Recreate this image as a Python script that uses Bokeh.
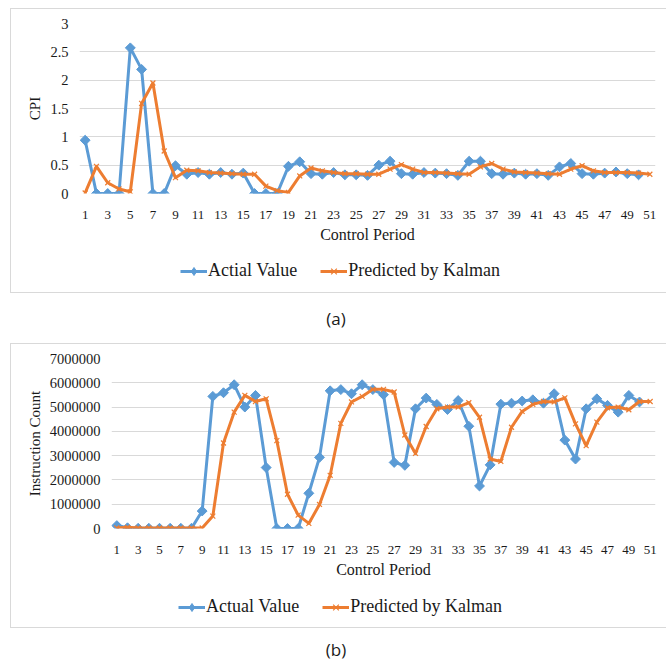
import numpy as np
from bokeh.plotting import figure
from bokeh.models import Range1d, FixedTicker, NumeralTickFormatter, Legend, LegendItem, Div
from bokeh.embed import file_html
from bokeh.resources import INLINE

# ---------------- data ----------------
periods_actual = list(range(1, 51))
periods_pred = list(range(1, 52))
x_ticks = list(range(1, 52, 2))

cpi_actual = [0.94, 0, 0, 0, 2.57, 2.19, 0, 0, 0.49, 0.34,
              0.37, 0.34, 0.37, 0.34, 0.36, 0, 0, 0, 0.48, 0.56,
              0.35, 0.34, 0.37, 0.33, 0.33, 0.32, 0.50, 0.57, 0.35, 0.34,
              0.37, 0.36, 0.35, 0.32, 0.57, 0.57, 0.35, 0.34, 0.36, 0.34,
              0.35, 0.32, 0.47, 0.53, 0.35, 0.34, 0.36, 0.38, 0.35, 0.33]
cpi_pred = [0.01, 0.48, 0.19, 0.08, 0.03, 1.59, 1.95, 0.75, 0.28, 0.41,
            0.40, 0.37, 0.36, 0.35, 0.34, 0.34, 0.13, 0.05, 0.02, 0.31,
            0.45, 0.40, 0.37, 0.35, 0.35, 0.34, 0.34, 0.43, 0.51, 0.43,
            0.37, 0.37, 0.36, 0.35, 0.34, 0.47, 0.53, 0.43, 0.38, 0.37,
            0.36, 0.35, 0.34, 0.43, 0.49, 0.40, 0.37, 0.37, 0.37, 0.36,
            0.34]
ic_actual = [120000, 30000, 10000, 10000, 10000, 10000, 10000, 10000, 720000,
             5440000, 5590000, 5920000, 5000000, 5480000, 2510000, 0, 0, 0, 1450000, 2930000,
             5670000, 5720000, 5550000, 5920000, 5720000, 5510000, 2720000, 2600000, 4930000, 5370000,
             5110000, 4900000, 5270000, 4210000, 1750000, 2620000, 5120000, 5160000, 5250000, 5300000,
             5160000, 5550000, 3640000, 2860000, 4930000, 5340000, 5070000, 4790000, 5480000, 5210000]
ic_pred = [20000, 50000, 20000, 20000, 20000, 20000, 20000, 20000, 20000, 510000,
           3520000, 4790000, 5480000, 5230000, 5340000, 3620000, 1410000, 550000, 210000, 990000,
           2190000, 4330000, 5210000, 5440000, 5730000, 5730000, 5620000, 3850000, 3090000, 4200000,
           4930000, 5000000, 5000000, 5180000, 4580000, 2860000, 2760000, 4170000, 4820000, 5110000,
           5230000, 5210000, 5380000, 4310000, 3410000, 4380000, 4970000, 5000000, 4890000, 5230000,
           5230000]

cpi_ticks = [0, 0.5, 1, 1.5, 2, 2.5, 3]
ic_ticks = [0, 1000000, 2000000, 3000000, 4000000, 5000000, 6000000, 7000000]

# ---------------- style ----------------
BLUE = "#5B9BD5"
ORANGE = "#ED7D31"
GRID = "#D9D9D9"
TEXT = "#1a1a1a"
SERIF = "Liberation Serif"
BOX = "1px solid #D9D9D9"


def draw_series(p, xa, ya, xp, yp, legend_mode=False):
    l1 = p.line(xa, ya, line_color=BLUE, line_width=3, line_join="round")
    if legend_mode:
        s1 = p.scatter(xa, ya, marker="diamond", size=11,
                       fill_color=BLUE, line_color=BLUE)
    else:
        s1 = p.scatter(xa, ya, marker="square", angle=np.pi / 4, size=7,
                       fill_color=BLUE, line_color=BLUE)
    l2 = p.line(xp, yp, line_color=ORANGE, line_width=3, line_join="round")
    s2 = p.scatter(xp, yp, marker="x", size=7, line_color=ORANGE, line_width=1.2)
    return l1, s1, l2, s2


def make_chart(ya, yp, ticks, fmt, y_label, left, top_margin):
    p = figure(width=656, height=236,
               x_range=Range1d(0.5, 51.5), y_range=Range1d(0, ticks[-1]),
               output_backend="svg", toolbar_location=None,
               min_border_left=left, min_border_right=12,
               min_border_top=14, min_border_bottom=52,
               outline_line_color=None, background_fill_color="white",
               border_fill_color="white", margin=(top_margin, 0, 0, 10),
               styles={"border-top": BOX, "border-left": BOX})

    p.xgrid.visible = False
    p.ygrid.grid_line_color = GRID
    p.ygrid.grid_line_width = 1

    xa = p.xaxis[0]
    xa.ticker = FixedTicker(ticks=x_ticks)
    xa.axis_line_color = None
    xa.major_tick_line_color = None
    xa.minor_tick_line_color = None
    xa.major_label_standoff = 11
    xa.major_label_text_font = SERIF
    xa.major_label_text_font_size = "13px"
    xa.major_label_text_color = TEXT
    xa.axis_label = "Control Period"
    xa.axis_label_text_font = SERIF
    xa.axis_label_text_font_size = "16px"
    xa.axis_label_text_font_style = "normal"
    xa.axis_label_text_color = TEXT
    xa.axis_label_standoff = 4

    yax = p.yaxis[0]
    yax.ticker = FixedTicker(ticks=ticks)
    yax.formatter = NumeralTickFormatter(format=fmt)
    yax.axis_line_color = None
    yax.major_tick_line_color = None
    yax.minor_tick_line_color = None
    yax.major_tick_out = 0
    yax.major_tick_in = 0
    yax.minor_tick_out = 0
    yax.major_label_standoff = 11
    yax.major_label_text_font = SERIF
    yax.major_label_text_font_size = "14.5px"
    yax.major_label_text_color = TEXT
    yax.axis_label = y_label
    yax.axis_label_text_font = SERIF
    yax.axis_label_text_font_size = "15px"
    yax.axis_label_text_font_style = "normal"
    yax.axis_label_text_color = TEXT
    yax.axis_label_standoff = 4

    draw_series(p, periods_actual, ya, periods_pred, yp)
    return p


def make_legend(ya, yp, actual_label, legend_x, legend_y):
    # legend strip of the chart box; the series are reused but lie outside its ranges
    p = figure(width=656, height=49, x_range=Range1d(100, 101), y_range=Range1d(100, 101),
               x_axis_location=None, y_axis_location=None,
               output_backend="svg", toolbar_location=None,
               min_border=0, outline_line_color=None,
               background_fill_color="white", border_fill_color="white",
               margin=(0, 0, 0, 10),
               styles={"border-left": BOX, "border-bottom": BOX})
    p.grid.visible = False
    l1, s1, l2, s2 = draw_series(p, periods_actual, ya, periods_pred, yp, legend_mode=True)
    legend = Legend(items=[LegendItem(label=actual_label, renderers=[l1, s1]),
                           LegendItem(label="Predicted by Kalman", renderers=[l2, s2])],
                    location=(legend_x, legend_y), orientation="horizontal",
                    glyph_width=27, glyph_height=20, label_height=20,
                    label_standoff=1, spacing=23, padding=0, margin=0,
                    border_line_color=None, background_fill_alpha=0,
                    label_text_font=SERIF, label_text_font_size="18px",
                    label_text_color=TEXT)
    p.add_layout(legend)
    return p


pa = make_chart(cpi_actual, cpi_pred, cpi_ticks, "0.[0]", "CPI", 68, 8)
la = make_legend(cpi_actual, cpi_pred, "Actial Value", 169, 12)
pb = make_chart(ic_actual, ic_pred, ic_ticks, "0", "Instruction Count", 100, 0)
lb = make_legend(ic_actual, ic_pred, "Actual Value", 167, 11)

cap_style = "font-family:'Open Sans';font-size:17px;line-height:17px;color:#1a1a1a;text-align:center;width:652px;"
cap_a = Div(text=f"<div style=\"{cap_style}padding-top:17px\">(a)</div>", width=652, height=50,
            margin=(0, 0, 0, 10))
cap_b = Div(text=f"<div style=\"{cap_style}padding-top:13px\">(b)</div>", width=652, height=34,
            margin=(0, 0, 0, 10))

with open("out.html", "w") as f:
    f.write(file_html([pa, la, cap_a, pb, lb, cap_b], INLINE))
